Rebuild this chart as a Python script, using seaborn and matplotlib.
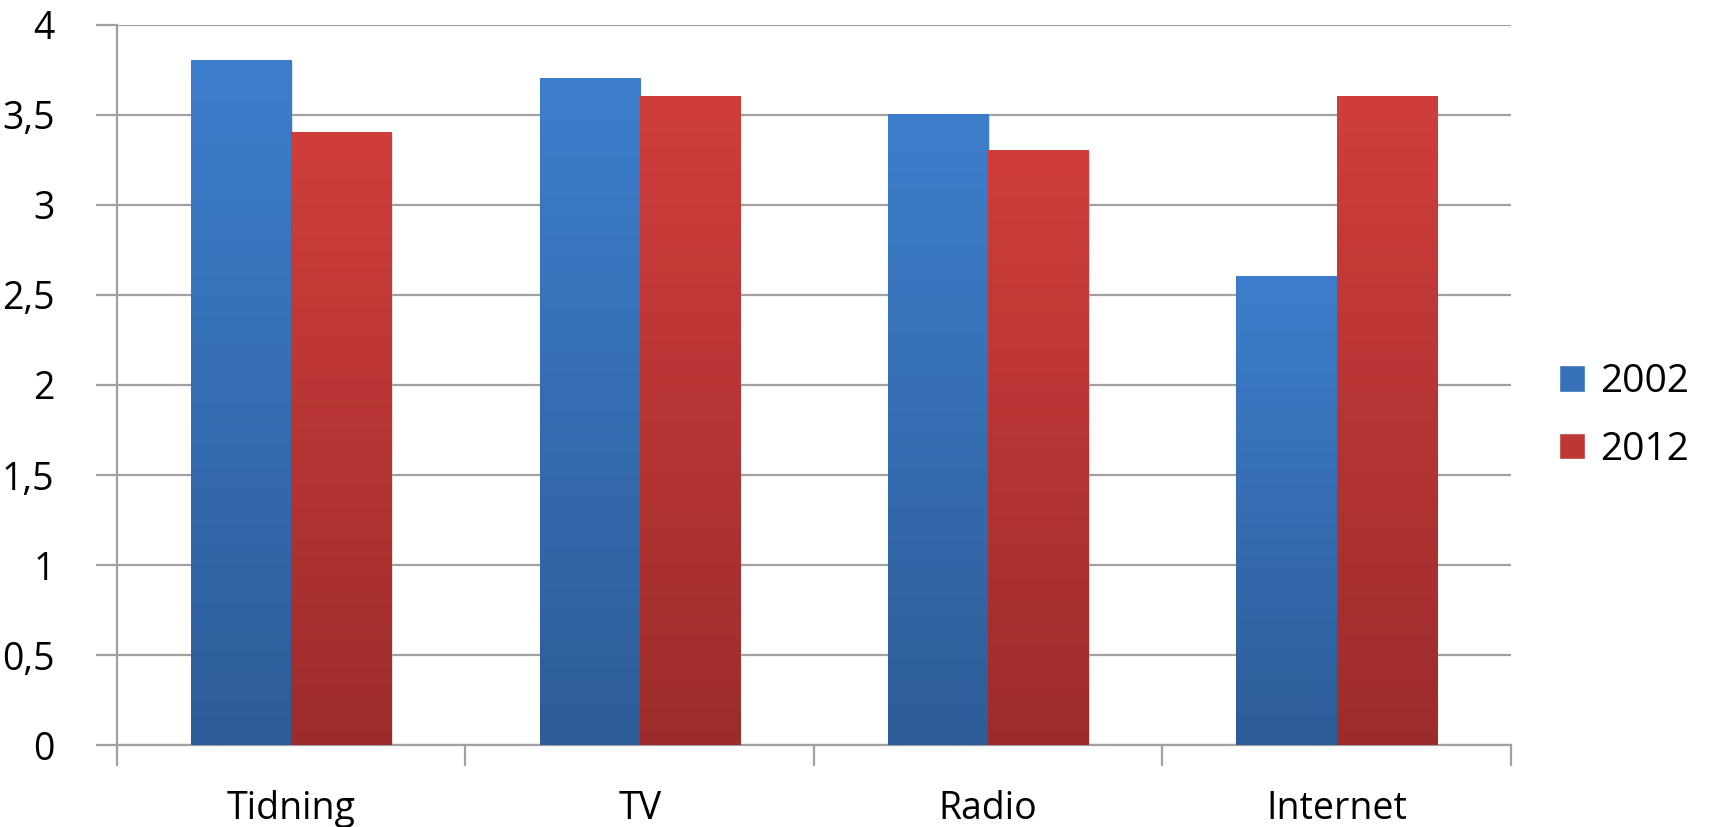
import numpy as np
import pandas as pd
import seaborn as sns
import matplotlib.pyplot as plt
from matplotlib.colors import LinearSegmentedColormap
from matplotlib.patches import Patch
from matplotlib.ticker import FuncFormatter

# Veri
kategoriler = ['Tidning', 'TV', 'Radio', 'Internet']
yillar = ['2002', '2012']
deger_2002 = [3.8, 3.7, 3.5, 2.6]
deger_2012 = [3.4, 3.6, 3.3, 3.6]

df = pd.DataFrame({
    'Medium': kategoriler * 2,
    'År': [yillar[0]] * 4 + [yillar[1]] * 4,
    'Värde': deger_2002 + deger_2012,
})

sns.set_style('white')
plt.rcParams['font.family'] = ['Open Sans', 'DejaVu Sans']
plt.rcParams['text.color'] = 'black'
plt.rcParams['xtick.labelcolor'] = 'black'
plt.rcParams['ytick.labelcolor'] = 'black'

renkler = {'2002': ('#2d5c98', '#3d7ecc'), '2012': ('#9c2c2b', '#d03e3b')}
orta = {'2002': '#3670b8', '2012': '#bd3735'}

fig = plt.figure(figsize=(17.09, 8.27), dpi=100)
ax = fig.add_axes([0.0685, 0.099, 0.8155, 0.871])

sns.barplot(data=df, x='Medium', y='Värde', hue='År', order=kategoriler,
            hue_order=yillar, palette=orta, width=0.575, gap=0,
            legend=False, ax=ax, zorder=3)

# Gradyan dolgu (altta koyu, üstte açık)
grad = np.linspace(0, 1, 256).reshape(-1, 1)
for cont, yil in zip(ax.containers, yillar):
    cmap = LinearSegmentedColormap.from_list(yil, renkler[yil])
    for bar in cont:
        x, w, h = bar.get_x(), bar.get_width(), bar.get_height()
        bar.set_facecolor('none')
        bar.set_edgecolor('none')
        # hafif gölge
        ax.add_patch(plt.Rectangle((x + 0.004, -0.012), w, h, color='#bbbbbb',
                                   alpha=0.5, zorder=2, lw=0))
        ax.imshow(grad, cmap=cmap, extent=[x, x + w, 0, h], origin='lower',
                  aspect='auto', zorder=3, interpolation='bilinear')

ax.set_xlim(-0.5, 3.5)
ax.set_ylim(0, 4)

# Eksen ayarları
ax.set_yticks(np.arange(0, 4.01, 0.5))
ax.yaxis.set_major_formatter(FuncFormatter(
    lambda v, p: ('%g' % v).replace('.', ',')))
ax.grid(axis='y', color='#a0a0a0', lw=1.6, zorder=0)
ax.set_xticks([-0.5, 0.5, 1.5, 2.5, 3.5])
ax.set_xticklabels([])
ax.set_xticks(range(4), minor=True)
ax.set_xticklabels(kategoriler, minor=True)
ax.tick_params(axis='x', which='major', length=15, width=1.6,
               color='#a0a0a0', direction='out', bottom=True)
ax.tick_params(axis='x', which='minor', length=0, pad=32, labelsize=27)
ax.tick_params(axis='y', length=15, width=1.6, color='#a0a0a0',
               direction='out', left=True, pad=30, labelsize=27)

for s in ['top', 'right']:
    ax.spines[s].set_visible(False)
ax.spines['left'].set_color('#a0a0a0')
ax.spines['left'].set_linewidth(1.6)
ax.spines['bottom'].set_color('#a0a0a0')
ax.spines['bottom'].set_linewidth(1.6)
ax.set_xlabel('')
ax.set_ylabel('')

# Lejant
tutamaclar = [Patch(facecolor=orta[y], label=y) for y in yillar]
fig.legend(handles=tutamaclar, loc='center left',
           bbox_to_anchor=(0.912, 0.497), frameon=False, fontsize=28,
           handlelength=0.68, handleheight=0.68, handletextpad=0.4,
           labelspacing=0.75, borderaxespad=0, borderpad=0)

plt.savefig('out.png', dpi=100)
